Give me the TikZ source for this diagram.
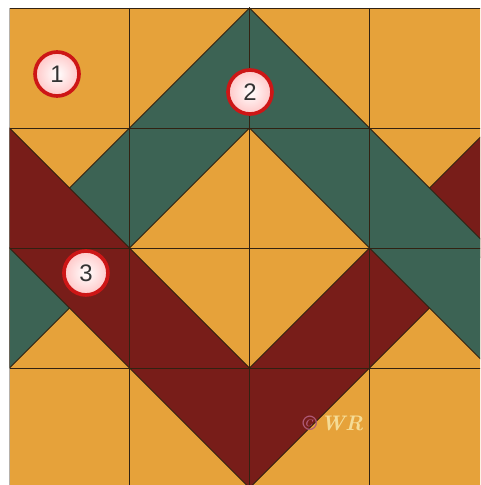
\documentclass[tikz,border=0pt]{standalone}
\usepackage{fontspec}
\newfontfamily\ballfont{Liberation Sans}
\definecolor{QuiltGold}{RGB}{230,162,58}
\definecolor{QuiltGreen}{RGB}{60,99,84}
\definecolor{QuiltRed}{RGB}{120,29,25}
\definecolor{SeamDark}{RGB}{50,34,18}
\definecolor{BallRed}{RGB}{205,22,22}
\definecolor{MarkGold}{RGB}{245,220,150}
\definecolor{MarkPink}{RGB}{175,90,120}

\begin{document}
\begin{tikzpicture}[
    x=3cm, y=-3cm,
    piece/.style={draw=SeamDark, line width=0.6pt},
    seam/.style={SeamDark, line width=0.7pt},
    ball/.style={circle, draw=BallRed, line width=2.6pt, inner color=white, outer color=red!22, minimum size=1.1cm, inner sep=0pt, font=\ballfont\fontsize{17}{17}\selectfont, text=black!80}
]
\useasboundingbox (-0.0792,-0.0667) rectangle (3.9208,3.975);
\fill[white] (-0.0792,-0.0667) rectangle (3.9208,3.975);

\begin{scope}
\clip (0,0) rectangle (3.9208,3.975);

% === BACKGROUND ===
\fill[QuiltGold] (0,0) rectangle (4,4);

% === GREEN CHEVRON (left arm under the red) ===
\filldraw[piece, fill=QuiltGreen] (0,2) -- (2,0) -- (2,1) -- (0,3) -- cycle;

% === RED V ===
\filldraw[piece, fill=QuiltRed] (0,1) -- (2,3) -- (4,1) -- (4,2) -- (2,4) -- (0,2) -- cycle;

% === GREEN CHEVRON (right arm over the red) ===
\filldraw[piece, fill=QuiltGreen] (2,0) -- (4,2) -- (4,3) -- (2,1) -- cycle;

% === SEAMS ===
\foreach \k in {1,2,3} {
  \draw[seam] (\k,0) -- (\k,4);
  \draw[seam] (0,\k) -- (4,\k);
}
\draw[seam] (0,4) -- (0,0) -- (4,0);
\end{scope}

% === LABELS ===
\node[ball] (ball1) at (0.396, 0.55) {1};
\node[ball] (ball2) at (2.004, 0.70) {2};
\node[ball] (ball3) at (0.637, 2.208) {3};

\node[font=\bfseries\itshape\fontsize{15}{15}\selectfont] (copyright) at (2.695, 3.465) {{\color{MarkPink}\textcopyright}\,{\color{MarkGold}WR}};

\end{tikzpicture}
\end{document}
